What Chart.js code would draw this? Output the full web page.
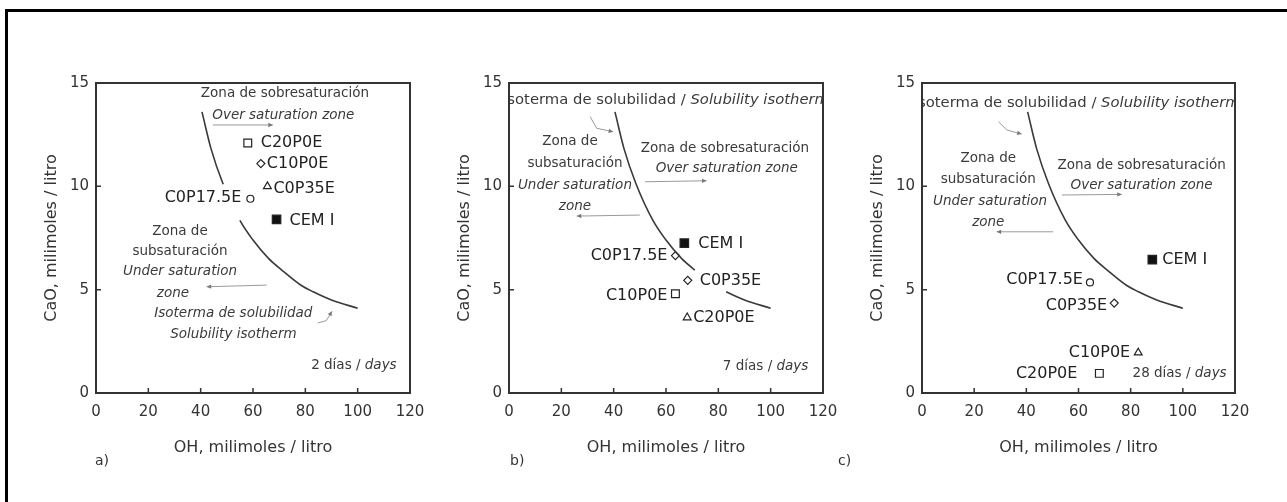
<!DOCTYPE html>
<html>
<head>
<meta charset="utf-8">
<script src="https://cdn.jsdelivr.net/npm/chart.js"></script>
<style>
    body { margin: 0; background: #fff; }
    #page { position: relative; width: 1287px; height: 502px; overflow: hidden; background: #fff; }
    #frame { position: absolute; left: 5px; top: 9px; width: 1300px; height: 520px; border-left: 3px solid #000; border-top: 3px solid #000; }
    canvas { position: absolute; }
    .tag { position: absolute; font: 14px "DejaVu Sans", sans-serif; color: #333; }
</style>
</head>
<body>
<div id="page">
    <div id="frame"></div>
    <canvas id="chartA" width="405" height="420"></canvas>
    <canvas id="chartB" width="405" height="420"></canvas>
    <canvas id="chartC" width="404" height="420"></canvas>
    <div class="tag" style="left:95px;top:452px">a)</div>
    <div class="tag" style="left:510px;top:452px">b)</div>
    <div class="tag" style="left:838px;top:452px">c)</div>
</div>
<script>
// axes
const xTicks = [0, 20, 40, 60, 80, 100, 120];
const yTicks = [0, 5, 10, 15];

// solubility isotherm (same curve on every panel)
const isoOH  = [40.5, 44, 48.6, 55, 60, 66, 71, 78.5, 83, 90, 100];
const isoCaO = [13.6, 11.8, 10.1, 8.35, 7.4, 6.5, 5.95, 5.2, 4.9, 4.5, 4.1];

// samples
const samples = ["CEM I", "C0P17.5E", "C0P35E", "C10P0E", "C20P0E"];

const ohDay2  = [69, 59, 65.5, 63, 58];
const caoDay2 = [8.4, 9.4, 10.0, 11.1, 12.1];

const ohDay7  = [67, 63.6, 68.3, 63.6, 68.1];
const caoDay7 = [7.25, 6.65, 5.45, 4.8, 3.65];

const ohDay28  = [88.3, 64.4, 73.7, 82.9, 68.0];
const caoDay28 = [6.45, 5.35, 4.35, 1.95, 0.95];

const FONT = '"DejaVu Sans", sans-serif';

// marker looks: [pointStyle, radius, filled]
const MK = {
    fsq:  ["rect", 6, true],
    sq:   ["rect", 5.5, false],
    circ: ["circle", 3.5, false],
    dia:  ["rectRot", 4, false],
    tri:  ["triangle", 4.5, false]
};

const panels = [
    {
        id: "chartA", left: 40, oh: ohDay2, cao: caoDay2,
        markers: ["fsq", "circ", "tri", "dia", "sq"],
        labelPos: [[13, 1, "left"], [-9, -1, "right"], [6, 3, "left"], [6, 0, "left"], [13, 0, "left"]],
        gaps: [[48.6, 55]],
        notes: [
            { x: 72.2, y: 14.5, a: "center", r: [["Zona de sobresaturación"]] },
            { x: 71.6, y: 13.45, a: "center", r: [["Over saturation zone", 1]] },
            { x: 32.1, y: 7.8, a: "center", r: [["Zona de"]] },
            { x: 32.1, y: 6.84, a: "center", r: [["subsaturación"]] },
            { x: 32.1, y: 5.87, a: "center", r: [["Under saturation", 1]] },
            { x: 29.4, y: 4.82, a: "center", r: [["zone", 1]] },
            { x: 52.5, y: 3.86, a: "center", r: [["Isoterma de solubilidad", 1]] },
            { x: 52.5, y: 2.81, a: "center", r: [["Solubility isotherm", 1]] },
            { x: 114.9, y: 1.35, a: "right", r: [["2 días / "], ["days", 1]] }
        ],
        leaders: [
            { p: [[44.7, 12.97], [67.6, 12.97]] },
            { p: [[65.2, 5.22], [42.3, 5.14]] },
            { p: [[84.8, 3.39], [88, 3.5], [90.2, 3.95]] }
        ]
    },
    {
        id: "chartB", left: 453, oh: ohDay7, cao: caoDay7,
        markers: ["fsq", "dia", "dia", "sq", "tri"],
        labelPos: [[14, 1, "left"], [-8, 0, "right"], [12, 0, "left"], [-8, 2, "right"], [6, 0, "left"]],
        gaps: [[71, 83]],
        notes: [
            { x: 60, y: 14.18, a: "center", s: 14.8, r: [["Isoterma de solubilidad / "], ["Solubility isotherm", 1]] },
            { x: 23.3, y: 12.16, a: "center", r: [["Zona de"]] },
            { x: 25.2, y: 11.11, a: "center", r: [["subsaturación"]] },
            { x: 25.2, y: 10.06, a: "center", r: [["Under saturation", 1]] },
            { x: 25.2, y: 9.01, a: "center", r: [["zone", 1]] },
            { x: 82.5, y: 11.84, a: "center", r: [["Zona de sobresaturación"]] },
            { x: 83.2, y: 10.87, a: "center", r: [["Over saturation zone", 1]] },
            { x: 114.4, y: 1.27, a: "right", r: [["7 días / "], ["days", 1]] }
        ],
        leaders: [
            { p: [[31, 13.37], [33.5, 12.81], [39.8, 12.64]] },
            { p: [[50, 8.61], [25.9, 8.56]] },
            { p: [[52, 10.22], [75.5, 10.27]] }
        ]
    },
    {
        id: "chartC", left: 866, oh: ohDay28, cao: caoDay28,
        markers: ["fsq", "circ", "dia", "tri", "sq"],
        labelPos: [[10, 0, "left"], [-7, -3, "right"], [-7, 3, "right"], [-8, 0, "right"], [-22, 0, "right"]],
        gaps: [],
        notes: [
            { x: 59.3, y: 14.02, a: "center", s: 14.8, r: [["Isoterma de solubilidad / "], ["Solubility isotherm", 1]] },
            { x: 25.4, y: 11.36, a: "center", r: [["Zona de"]] },
            { x: 25.4, y: 10.31, a: "center", r: [["subsaturación"]] },
            { x: 26.1, y: 9.26, a: "center", r: [["Under saturation", 1]] },
            { x: 25.4, y: 8.24, a: "center", r: [["zone", 1]] },
            { x: 84.2, y: 11.03, a: "center", r: [["Zona de sobresaturación"]] },
            { x: 84.2, y: 10.06, a: "center", r: [["Over saturation zone", 1]] },
            { x: 116.8, y: 0.95, a: "right", r: [["28 días / "], ["days", 1]] }
        ],
        leaders: [
            { p: [[29.3, 13.13], [32.5, 12.73], [38.2, 12.53]] },
            { p: [[50.3, 7.8], [28.6, 7.8]] },
            { p: [[53.6, 9.58], [76.6, 9.61]] }
        ]
    }
];

// draws a line of text made of regular / italic runs
function drawRuns(ctx, runs, x, y, align, size, color) {
    const fonts = runs.map(r => (r[1] ? "italic " : "") + size + "px " + FONT);
    const widths = runs.map((r, k) => { ctx.font = fonts[k]; return ctx.measureText(r[0]).width; });
    const total = widths.reduce((s, w) => s + w, 0);
    let sx = align === "left" ? x : align === "right" ? x - total : x - total / 2;
    ctx.fillStyle = color;
    ctx.textAlign = "left";
    ctx.textBaseline = "middle";
    runs.forEach((r, k) => {
        ctx.font = fonts[k];
        ctx.fillText(r[0], sx, y);
        sx += widths[k];
    });
}

const decorPlugin = {
    id: "decor",
    afterDatasetsDraw(chart) {
        const p = chart.config.options.panel;
        const ctx = chart.ctx;
        const xs = chart.scales.x, ys = chart.scales.y;
        const area = chart.chartArea;

        // annotations, clipped to the plot box
        ctx.save();
        ctx.beginPath();
        ctx.rect(area.left, area.top, area.right - area.left, area.bottom - area.top);
        ctx.clip();
        p.notes.forEach(n => {
            drawRuns(ctx, n.r, xs.getPixelForValue(n.x), ys.getPixelForValue(n.y), n.a, n.s || 13.5, "#3a3a3a");
        });
        ctx.strokeStyle = "#999";
        ctx.fillStyle = "#777";
        ctx.lineWidth = 1;
        p.leaders.forEach(l => {
            const pts = l.p.map(q => [xs.getPixelForValue(q[0]), ys.getPixelForValue(q[1])]);
            ctx.beginPath();
            pts.forEach((q, i) => i ? ctx.lineTo(q[0], q[1]) : ctx.moveTo(q[0], q[1]));
            ctx.stroke();
            const a = pts[pts.length - 2], b = pts[pts.length - 1];
            const ang = Math.atan2(b[1] - a[1], b[0] - a[0]);
            ctx.beginPath();
            ctx.moveTo(b[0], b[1]);
            ctx.lineTo(b[0] - 5 * Math.cos(ang - 0.45), b[1] - 5 * Math.sin(ang - 0.45));
            ctx.lineTo(b[0] - 5 * Math.cos(ang + 0.45), b[1] - 5 * Math.sin(ang + 0.45));
            ctx.closePath();
            ctx.fill();
        });
        ctx.restore();

        // sample names next to their markers
        samples.forEach((name, i) => {
            const pt = chart.getDatasetMeta(i + 1).data[0];
            const lp = p.labelPos[i];
            drawRuns(ctx, [[name]], pt.x + lp[0], pt.y + lp[1], lp[2], 16, "#222");
        });
    },
    afterDraw(chart) {
        const ctx = chart.ctx;
        const area = chart.chartArea;
        const xs = chart.scales.x, ys = chart.scales.y;
        ctx.save();
        ctx.strokeStyle = "#333";
        ctx.lineWidth = 2;
        ctx.strokeRect(area.left, area.top, area.right - area.left, area.bottom - area.top);
        // inward tick marks
        ctx.lineWidth = 1.5;
        ctx.beginPath();
        xTicks.slice(1, -1).forEach(v => {
            const px = xs.getPixelForValue(v);
            ctx.moveTo(px, area.bottom);
            ctx.lineTo(px, area.bottom - 5);
        });
        yTicks.slice(1, -1).forEach(v => {
            const py = ys.getPixelForValue(v);
            ctx.moveTo(area.left, py);
            ctx.lineTo(area.left + 5, py);
        });
        ctx.stroke();
        ctx.restore();
    }
};

function buildChart(p) {
    const canvas = document.getElementById(p.id);
    canvas.style.left = p.left + "px";
    canvas.style.top = "60px";

    const inGap = (a, b) => p.gaps.some(g => a >= g[0] && b <= g[1]);

    const datasets = [{
        label: "isotherm",
        data: isoOH.map((x, i) => ({ x: x, y: isoCaO[i] })),
        showLine: true,
        borderColor: "#3a3a3a",
        borderWidth: 1.6,
        pointRadius: 0,
        cubicInterpolationMode: "monotone",
        segment: {
            borderColor: c => inGap(c.p0.parsed.x, c.p1.parsed.x) ? "rgba(0,0,0,0)" : "#3a3a3a"
        }
    }];

    samples.forEach((name, i) => {
        const mk = MK[p.markers[i]];
        datasets.push({
            label: name,
            data: [{ x: p.oh[i], y: p.cao[i] }],
            pointStyle: mk[0],
            pointRadius: mk[1],
            pointBackgroundColor: mk[2] ? "#111" : "#fff",
            pointBorderColor: "#222",
            pointBorderWidth: 1.2
        });
    });

    return new Chart(canvas, {
        type: "scatter",
        data: { datasets },
        options: {
            panel: p,
            responsive: false,
            animation: false,
            layout: { padding: { top: 23, right: 35, bottom: 23, left: 0 } },
            plugins: { legend: { display: false }, tooltip: { enabled: false } },
            scales: {
                x: {
                    type: "linear", min: 0, max: 120,
                    afterBuildTicks: s => { s.ticks = xTicks.map(v => ({ value: v })); },
                    afterFit: s => { s.height = 64; },
                    grid: { display: false, drawTicks: false },
                    border: { display: false },
                    ticks: { padding: 10, color: "#333", font: { family: FONT, size: 15 } },
                    title: {
                        display: true, text: "OH, milimoles / litro", color: "#333",
                        font: { family: FONT, size: 16 }, padding: { top: 0, bottom: 0 }
                    }
                },
                y: {
                    type: "linear", min: 0, max: 15,
                    afterBuildTicks: s => { s.ticks = yTicks.map(v => ({ value: v })); },
                    afterFit: s => { s.width = 56; },
                    grid: { display: false, drawTicks: false },
                    border: { display: false },
                    ticks: { padding: 7, color: "#333", font: { family: FONT, size: 15 } },
                    title: {
                        display: true, text: "CaO, milimoles / litro", color: "#333",
                        font: { family: FONT, size: 16 }, padding: { top: 2, bottom: 0 }
                    }
                }
            }
        },
        plugins: [decorPlugin]
    });
}

panels.forEach(buildChart);
</script>
</body>
</html>
